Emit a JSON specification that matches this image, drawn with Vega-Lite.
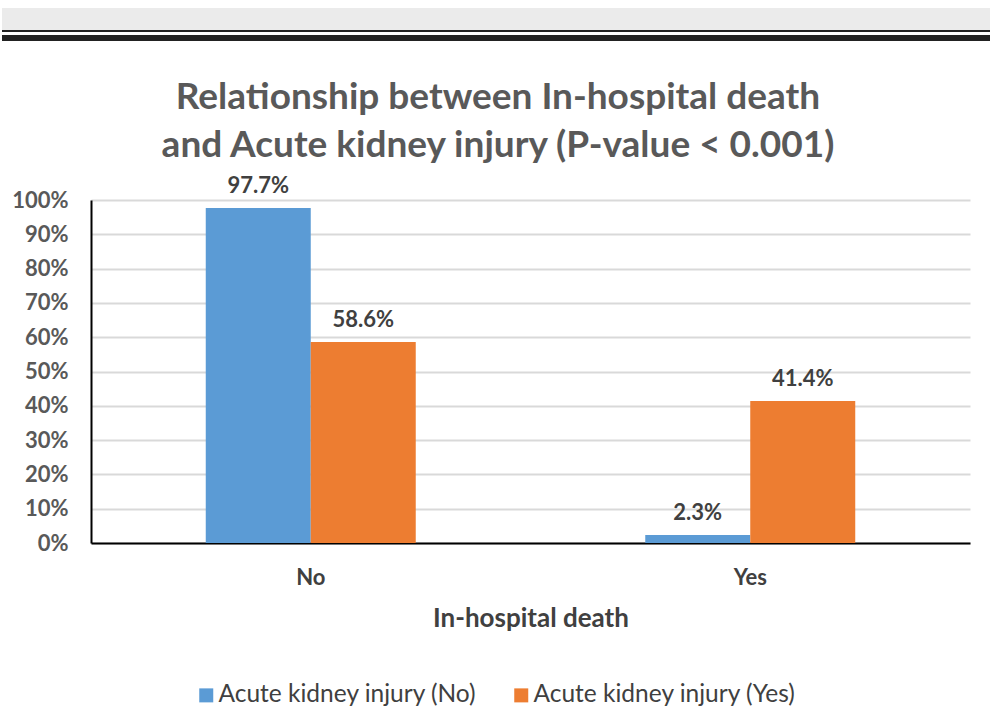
{
  "$schema": "https://vega.github.io/schema/vega-lite/v6.json",
  "padding": {"left": 1, "top": 8, "right": 2, "bottom": 0},
  "background": "#ffffff",
  "config": {"font": "Lato", "legend": {"layout": {"bottom": {"anchor": "middle"}}}},
  "columns": 2,
  "align": "none",
  "spacing": 0,
  "concat": [
    {"width": 1, "height": 1, "view": {"fill": "#ffffff", "stroke": null}, "data": {"values": []}, "mark": "point", "encoding": {}},
    {
      "width": 988, "height": 22,
      "view": {"fill": "#ebebeb", "stroke": null},
      "data": {"values": []},
      "mark": "point",
      "encoding": {}
    },
    {"width": 1, "height": 1, "view": {"fill": "#ffffff", "stroke": null}, "data": {"values": []}, "mark": "point", "encoding": {}},
    {
      "width": 988, "height": 2,
      "view": {"fill": "#222222", "stroke": null},
      "data": {"values": []},
      "mark": "point",
      "encoding": {}
    },
    {"width": 1, "height": 1, "view": {"fill": "#ffffff", "stroke": null}, "data": {"values": []}, "mark": "point", "encoding": {}},
    {
      "width": 988, "height": 3,
      "view": {"fill": "#ffffff", "stroke": null},
      "data": {"values": []},
      "mark": "point",
      "encoding": {}
    },
    {"width": 1, "height": 1, "view": {"fill": "#ffffff", "stroke": null}, "data": {"values": []}, "mark": "point", "encoding": {}},
    {
      "width": 988, "height": 6,
      "view": {"fill": "#222222", "stroke": null},
      "data": {"values": []},
      "mark": "point",
      "encoding": {}
    },
    {"width": 1, "height": 1, "view": {"fill": "#ffffff", "stroke": null}, "data": {"values": []}, "mark": "point", "encoding": {}},
    {
      "width": 988, "height": 37,
      "view": {"fill": "#ffffff", "stroke": null},
      "data": {"values": []},
      "mark": "point",
      "encoding": {}
    },
    {"width": 1, "height": 1, "view": {"fill": "#ffffff", "stroke": null}, "data": {"values": []}, "mark": "point", "encoding": {}},
    {
      "width": 879,
      "height": 343,
      "view": {"stroke": null},
      "title": {
        "text": ["Relationship between In-hospital death", "and Acute kidney injury (P-value < 0.001)"],
        "font": "Lato",
        "fontSize": 37,
        "fontWeight": "bold",
        "color": "#595959",
        "lineHeight": 48,
        "anchor": "middle",
        "frame": "bounds",
        "dx": 12,
        "offset": 10
      },
      "data": {
        "values": [
          {"death": "No", "aki": "Acute kidney injury (No)", "pct": 97.7, "label": "97.7%"},
          {"death": "No", "aki": "Acute kidney injury (Yes)", "pct": 58.6, "label": "58.6%"},
          {"death": "Yes", "aki": "Acute kidney injury (No)", "pct": 2.3, "label": "2.3%"},
          {"death": "Yes", "aki": "Acute kidney injury (Yes)", "pct": 41.4, "label": "41.4%"}
        ]
      },
      "encoding": {
        "x": {
          "field": "death",
          "type": "nominal",
          "scale": {"paddingInner": 0, "paddingOuter": 0},
          "axis": {
            "title": "In-hospital death",
            "titleFont": "Lato",
            "titleFontSize": 26,
            "titleFontWeight": "bold",
            "titleColor": "#404040",
            "titlePadding": 17,
            "labelAngle": 0,
            "labelFont": "Lato",
            "labelFontSize": 22,
            "labelFontWeight": "bold",
            "labelColor": "#404040",
            "labelPadding": 24,
            "ticks": false,
            "domainColor": "#000000",
            "domainWidth": 2
          }
        },
        "xOffset": {
          "field": "aki",
          "type": "nominal",
          "scale": {
            "domain": ["_pad_a", "Acute kidney injury (No)", "Acute kidney injury (Yes)", "_pad_b"],
            "paddingInner": 0,
            "paddingOuter": 0.093
          }
        },
        "y": {
          "field": "pct",
          "type": "quantitative",
          "scale": {"domain": [0, 100], "nice": false},
          "axis": {
            "title": null,
            "values": [0, 10, 20, 30, 40, 50, 60, 70, 80, 90, 100],
            "labelExpr": "datum.value + '%'",
            "labelFont": "Lato",
            "labelFontSize": 22,
            "labelFontWeight": "bold",
            "labelColor": "#595959",
            "labelPadding": 23,
            "minExtent": 89,
            "ticks": false,
            "domainColor": "#000000",
            "domainWidth": 2,
            "gridColor": "#d9d9d9",
            "gridWidth": 2
          }
        }
      },
      "layer": [
        {
          "mark": {"type": "bar"},
          "encoding": {
            "color": {
              "field": "aki",
              "type": "nominal",
              "scale": {"range": ["#5b9bd5", "#ed7d31"]},
              "legend": {
                "title": null,
                "orient": "bottom",
                "direction": "horizontal",
                "symbolType": "square",
                "symbolSize": 196,
                "symbolStrokeWidth": 0,
                "labelFont": "Lato",
                "labelFontSize": 24.5,
                "labelColor": "#404040",
                "labelLimit": 400,
                "labelOffset": 0,
                "columnPadding": 32,
                "offset": 52
              }
            }
          }
        },
        {
          "mark": {
            "type": "text",
            "baseline": "bottom",
            "dy": -10,
            "font": "Lato",
            "fontSize": 22,
            "fontWeight": "bold",
            "color": "#404040"
          },
          "encoding": {
            "text": {"field": "label", "type": "nominal"},
            "detail": {"field": "aki"}
          }
        }
      ]
    }
  ]
}
